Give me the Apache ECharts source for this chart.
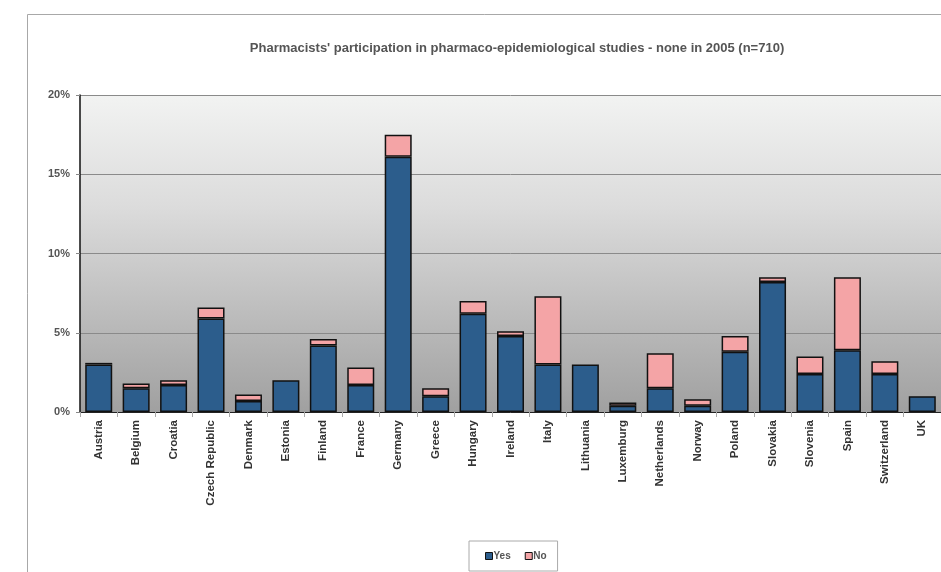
<!DOCTYPE html>
<html><head><meta charset="utf-8">
<script src="https://cdn.jsdelivr.net/npm/echarts@6/dist/echarts.min.js"></script>
<style>html,body{margin:0;padding:0;background:#fff}#c{width:941px;height:572px}</style>
</head><body><div id="c"></div>
<script>
const categories = ["Austria","Belgium","Croatia","Czech Republic","Denmark","Estonia","Finland","France","Germany","Greece","Hungary","Ireland","Italy","Lithuania","Luxemburg","Netherlands","Norway","Poland","Slovakia","Slovenia","Spain","Switzerland","UK"];
const yesValues = [3.0,1.5,1.7,5.9,0.7,2.0,4.2,1.7,16.1,1.0,6.2,4.8,3.0,3.0,0.4,1.5,0.4,3.8,8.2,2.4,3.9,2.4,1.0];
const noValues  = [0.1,0.3,0.3,0.7,0.4,0.0,0.4,1.1,1.4,0.5,0.8,0.3,4.3,0.0,0.2,2.2,0.4,1.0,0.3,1.1,4.6,0.8,0.0];
const yTicks = [0,5,10,15,20];
const titleText = "Pharmacists' participation in pharmaco-epidemiological studies - none in 2005 (n=710)";

const chart = echarts.init(document.getElementById('c'), null, {renderer:'canvas'});
const font = 'Liberation Sans, Arial, sans-serif';
chart.setOption({
  animation:false,
  backgroundColor:'#fff',
  graphic:[{type:'rect', silent:true, z:-10, shape:{x:27.5,y:14.5,width:1000,height:600}, style:{fill:'#fff', stroke:'#a8a8a8', lineWidth:1}}],
  title:{text:titleText, left:512, top:37, textAlign:'center',
    textStyle:{fontFamily:font, fontSize:13, fontWeight:'bold', color:'#555'}},
  legend:{data:['Yes','No'], left:469, top:541, orient:'horizontal', icon:'rect',
    itemWidth:7, itemHeight:7, itemGap:14, padding:[10,11,10,16],
    borderColor:'#aaa', borderWidth:1, backgroundColor:'#fff',
    itemStyle:{borderColor:'#111', borderWidth:1},
    textStyle:{fontFamily:font, fontSize:10, fontWeight:'bold', color:'#555', padding:[0,0,0,-4]}},
  grid:{left:80, top:95, width:862.5, height:317, show:true, borderWidth:0,
    backgroundColor:{type:'linear',x:0,y:0,x2:0,y2:1,colorStops:[{offset:0,color:'#f2f3f2'},{offset:0.35,color:'#dcdcdc'},{offset:1,color:'#a0a0a0'}]}},
  xAxis:{type:'category', data:categories,
    axisLine:{show:true, lineStyle:{color:'#222', width:1}},
    axisTick:{show:true, alignWithLabel:false, length:5, lineStyle:{color:'#aaa'}},
    axisLabel:{rotate:90, interval:0, margin:8, fontFamily:font, fontSize:11.5, fontWeight:'bold', color:'#333'}},
  yAxis:{type:'value', min:yTicks[0], max:yTicks[yTicks.length-1], interval:5,
    axisLine:{show:true, lineStyle:{color:'#111', width:1.5}},
    axisTick:{show:true, length:4, lineStyle:{color:'#888'}},
    splitLine:{show:true, lineStyle:{color:'#8a8a8a', width:1}},
    axisLabel:{formatter:'{value}%', margin:10, fontFamily:font, fontSize:11, fontWeight:'bold', color:'#555'}},
  series:[
    {name:'Yes', type:'bar', stack:'a', data:yesValues, barWidth:27,
      itemStyle:{color:'#2c5d8c', borderColor:'#111', borderWidth:1.5}},
    {name:'No', type:'bar', stack:'a', data:noValues.map(v => v === 0 ? '-' : v), barWidth:27,
      itemStyle:{color:'#f4a4a6', borderColor:'#111', borderWidth:1.5}}
  ]
});
</script></body></html>
